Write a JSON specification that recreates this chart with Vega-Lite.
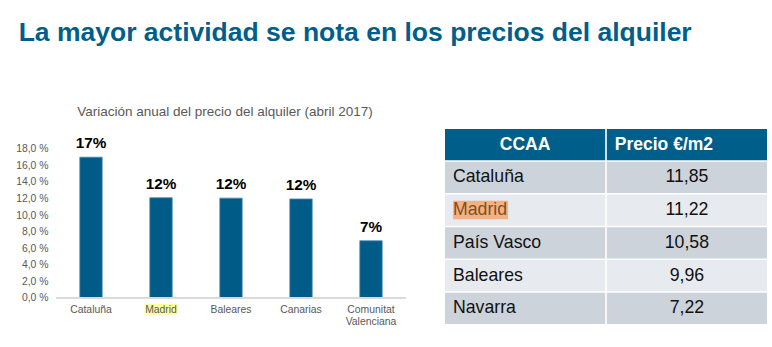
{
  "$schema": "https://vega.github.io/schema/vega-lite/v6.json",
  "padding": {"left": 15, "top": 20, "right": 7, "bottom": 14},
  "background": "#ffffff",
  "config": {
    "font": "Liberation Sans, Arial, sans-serif",
    "view": {"stroke": null},
    "axis": {"labelOverlap": false},
    "locale": {"number": {"decimal": ",", "thousands": ".", "grouping": [3], "currency": ["", " €"]}}
  },
  "title": {
    "text": "La mayor actividad se nota en los precios del alquiler",
    "anchor": "start",
    "frame": "bounds",
    "fontSize": 26.5,
    "fontWeight": "bold",
    "color": "#005E8A",
    "dx": 3,
    "offset": 58
  },
  "spacing": 38,
  "hconcat": [
    {
      "width": 350,
      "height": 202,
      "title": {
        "text": "Variación anual del precio del alquiler (abril 2017)",
        "fontSize": 13.5,
        "fontWeight": "normal",
        "color": "#595959",
        "anchor": "middle",
        "dx": -6,
        "offset": 11
      },
      "data": {
        "values": [
          {"ccaa": "Cataluña", "etiqueta": "Cataluña", "variacion": 17.0, "texto": "17%"},
          {"ccaa": "Madrid", "etiqueta": "Madrid", "variacion": 12.1, "texto": "12%"},
          {"ccaa": "Baleares", "etiqueta": "Baleares", "variacion": 12.05, "texto": "12%"},
          {"ccaa": "Canarias", "etiqueta": "Canarias", "variacion": 11.95, "texto": "12%"},
          {"ccaa": "Comunitat Valenciana", "etiqueta": "Comunitat\nValenciana", "variacion": 6.9, "texto": "7%"}
        ]
      },
      "encoding": {
        "x": {
          "field": "ccaa",
          "type": "nominal",
          "sort": null,
          "scale": {"domain": ["Cataluña", "Madrid", "Baleares", "Canarias", "Comunitat Valenciana"], "paddingInner": 0.68, "paddingOuter": 0.34},
          "axis": null
        }
      },
      "layer": [
        {
          "transform": [{"filter": "datum.ccaa === 'Madrid'"}],
          "mark": {"type": "bar", "color": "#FFFF9C", "width": 33},
          "encoding": {
            "y": {"datum": -0.7, "type": "quantitative",
              "scale": {"domain": [-4, 20.4], "nice": false, "zero": false},
              "axis": {"title": null, "values": [0, 2, 4, 6, 8, 10, 12, 14, 16, 18], "labelExpr": "replace(format(datum.value, '.1f'), '.', ',') + ' %'", "labelOverlap": false, "domain": false, "ticks": false, "grid": false, "labelPadding": 8, "labelFontSize": 10.4, "labelColor": "#595959"}},
            "y2": {"datum": -2.03}
          }
        },
        {
          "mark": {"type": "bar", "color": "#005B87", "stroke": "#4A8DB6", "strokeWidth": 0.8},
          "encoding": {
            "y": {
              "field": "variacion",
              "type": "quantitative",
              "scale": {"domain": [-4, 20.4], "nice": false, "zero": false},
              "axis": {"title": null, "values": [0, 2, 4, 6, 8, 10, 12, 14, 16, 18], "labelExpr": "replace(format(datum.value, '.1f'), '.', ',') + ' %'", "labelOverlap": false, "domain": false, "ticks": false, "grid": false, "labelPadding": 8, "labelFontSize": 10.4, "labelColor": "#595959"}
            }
          }
        },
        {
          "mark": {"type": "rule", "color": "#D9D9D9", "strokeWidth": 1},
          "encoding": {"x": null, "y": {"datum": 0, "type": "quantitative",
            "axis": {"title": null, "values": [0, 2, 4, 6, 8, 10, 12, 14, 16, 18], "labelExpr": "replace(format(datum.value, '.1f'), '.', ',') + ' %'", "labelOverlap": false, "domain": false, "ticks": false, "grid": false, "labelPadding": 8, "labelFontSize": 10.4, "labelColor": "#595959"}}}
        },
        {
          "mark": {"type": "text", "fontSize": 15.3, "fontWeight": "bold", "color": "#000000", "baseline": "alphabetic", "dy": -9},
          "encoding": {
            "y": {"field": "variacion", "type": "quantitative",
              "axis": {"title": null, "values": [0, 2, 4, 6, 8, 10, 12, 14, 16, 18], "labelExpr": "replace(format(datum.value, '.1f'), '.', ',') + ' %'", "labelOverlap": false, "domain": false, "ticks": false, "grid": false, "labelPadding": 8, "labelFontSize": 10.4, "labelColor": "#595959"}},
            "text": {"field": "texto"}
          }
        },
        {
          "mark": {"type": "text", "fontSize": 10.4, "color": "#595959", "baseline": "top", "lineBreak": "\n", "lineHeight": 12.5},
          "encoding": {
            "y": {"datum": -0.8, "type": "quantitative",
              "axis": {"title": null, "values": [0, 2, 4, 6, 8, 10, 12, 14, 16, 18], "labelExpr": "replace(format(datum.value, '.1f'), '.', ',') + ' %'", "labelOverlap": false, "domain": false, "ticks": false, "grid": false, "labelPadding": 8, "labelFontSize": 10.4, "labelColor": "#595959"}},
            "text": {"field": "etiqueta"}
          }
        }
      ]
    },
    {
      "width": 322,
      "height": 195,
      "data": {
        "values": [
          {"ccaa": "Cataluña", "precio": 11.85},
          {"ccaa": "Madrid", "precio": 11.22},
          {"ccaa": "País Vasco", "precio": 10.58},
          {"ccaa": "Baleares", "precio": 9.96},
          {"ccaa": "Navarra", "precio": 7.22}
        ]
      },
      "layer": [
        {
          "data": {"values": [{"col": "c1", "titulo": "CCAA"}, {"col": "c2", "titulo": "Precio €/m2"}]},
          "layer": [
            {
              "mark": {"type": "rect", "color": "#005E8A"},
              "encoding": {
                "x": {"field": "col", "type": "nominal", "scale": {"domain": ["c1", "c2"], "paddingInner": 0.01, "paddingOuter": 0}, "axis": null},
                "y": {"datum": "cabecera", "type": "nominal", "scale": {"domain": ["cabecera", "Cataluña", "Madrid", "País Vasco", "Baleares", "Navarra"], "paddingInner": 0.05, "paddingOuter": 0}, "axis": null}
              }
            },
            {
              "transform": [{"filter": "datum.col === 'c1'"}],
              "mark": {"type": "text", "color": "#FFFFFF", "fontSize": 17.5, "fontWeight": "bold", "align": "center", "baseline": "middle"},
              "encoding": {
                "x": {"field": "col", "type": "nominal"},
                "y": {"datum": "cabecera", "type": "nominal"},
                "text": {"field": "titulo"}
              }
            },
            {
              "transform": [{"filter": "datum.col === 'c2'"}],
              "mark": {"type": "text", "color": "#FFFFFF", "fontSize": 17.5, "fontWeight": "bold", "align": "left", "baseline": "middle", "dx": 8},
              "encoding": {
                "x": {"field": "col", "type": "nominal", "bandPosition": 0},
                "y": {"datum": "cabecera", "type": "nominal"},
                "text": {"field": "titulo"}
              }
            }
          ]
        },
        {
          "mark": {"type": "rect"},
          "encoding": {
            "x": {"datum": "c1", "type": "nominal"},
            "y": {"field": "ccaa", "type": "nominal"},
            "fill": {"field": "ccaa", "type": "nominal", "legend": null,
              "scale": {"domain": ["Cataluña", "Madrid", "País Vasco", "Baleares", "Navarra"], "range": ["#CDD3DB", "#E7EAEE", "#CDD3DB", "#E7EAEE", "#CDD3DB"]}}
          }
        },
        {
          "mark": {"type": "rect"},
          "encoding": {
            "x": {"datum": "c2", "type": "nominal"},
            "y": {"field": "ccaa", "type": "nominal"},
            "fill": {"field": "ccaa", "type": "nominal", "legend": null}
          }
        },
        {
          "transform": [{"filter": "datum.ccaa === 'Madrid'"}],
          "mark": {"type": "rect", "color": "#F4B183", "width": 55, "height": 18.5, "xOffset": -44.5},
          "encoding": {
            "x": {"datum": "c1", "type": "nominal"},
            "y": {"field": "ccaa", "type": "nominal"}
          }
        },
        {
          "mark": {"type": "text", "fontSize": 17.7, "align": "left", "baseline": "middle", "dx": 8},
          "encoding": {
            "x": {"datum": "c1", "type": "nominal", "bandPosition": 0},
            "y": {"field": "ccaa", "type": "nominal"},
            "text": {"field": "ccaa"},
            "color": {"condition": {"test": "datum.ccaa === 'Madrid'", "value": "#7F4F24"}, "value": "#111111"}
          }
        },
        {
          "mark": {"type": "text", "fontSize": 17.7, "align": "center", "baseline": "middle", "color": "#111111"},
          "encoding": {
            "x": {"datum": "c2", "type": "nominal"},
            "y": {"field": "ccaa", "type": "nominal"},
            "text": {"field": "precio", "type": "quantitative", "format": ".2f"}
          }
        }
      ]
    }
  ]
}
